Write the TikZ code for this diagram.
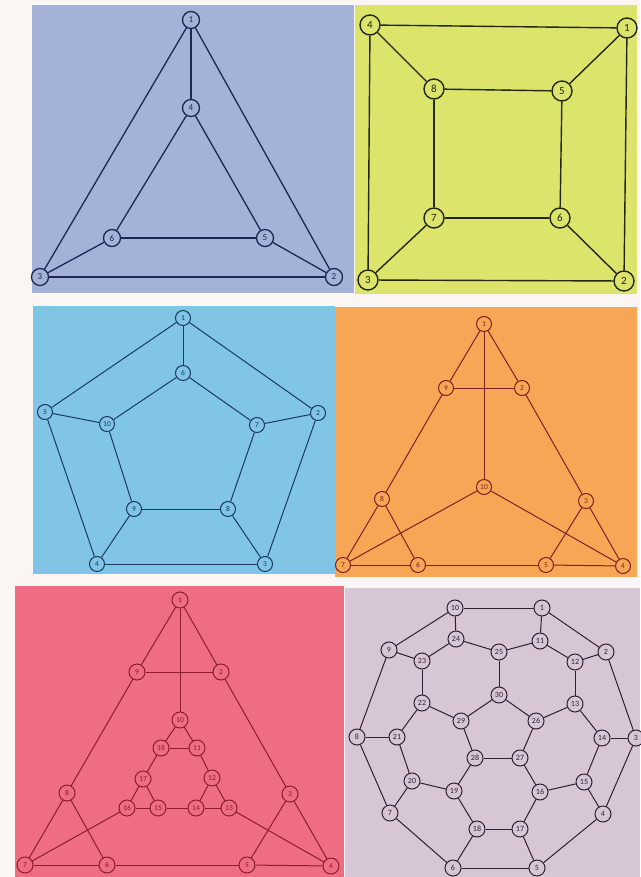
\documentclass[tikz,border=0pt]{standalone}
\usepackage{fontspec}
\setmainfont{Carlito}
\usepackage{xcolor}
\definecolor{PageWhite}{HTML}{FBF6F4}
\definecolor{PanelLilac}{HTML}{A4B2D8}
\definecolor{PanelLime}{HTML}{DDE46C}
\definecolor{PanelSky}{HTML}{80C4E6}
\definecolor{PanelOrange}{HTML}{F7A656}
\definecolor{PanelPink}{HTML}{EE6D85}
\definecolor{PanelMauve}{HTML}{D7C6D6}
\definecolor{InkNavy}{HTML}{1D2752}
\definecolor{InkBlack}{HTML}{22260F}
\definecolor{InkBlue}{HTML}{1B3A5C}
\definecolor{InkBrown}{HTML}{7A2220}
\definecolor{InkRed}{HTML}{8B1B2E}
\definecolor{InkPlum}{HTML}{2B2235}

\begin{document}
\begin{tikzpicture}[
  x=1pt, y=-1pt,
  vertex/.style={circle, draw, inner sep=0pt},
  panel/.style={line width=1pt}
]
\useasboundingbox[fill=PageWhite] (0,0) rectangle (640,877);

% Panel backgrounds
\fill[PanelLilac]  (32,5)    rectangle (354,293);
\fill[PanelLime]   (355,5)   rectangle (637,294);
\fill[PanelSky]    (33,306)  rectangle (335,574);
\fill[PanelOrange] (335,307) rectangle (637,577);
\fill[PanelPink]   (15,586)  rectangle (344,877);
\fill[PanelMauve]  (345,588) rectangle (640,877);

% Panel A: triangle in triangle
\begin{scope}[panel, draw=InkNavy, text=InkNavy, line width=1.3pt,
  vertex/.append style={fill=PanelLilac, minimum size=17pt, font=\fontsize{9}{9}\selectfont}]
\node[vertex] (a1) at (191,20)  {1};
\node[vertex] (a4) at (191,108) {4};
\node[vertex] (a6) at (112,238) {6};
\node[vertex] (a5) at (265,238) {5};
\node[vertex] (a3) at (40,277)  {3};
\node[vertex] (a2) at (334,277) {2};
\draw (a1) -- (a4); \draw (a1) -- (a3); \draw (a1) -- (a2);
\draw (a4) -- (a6); \draw (a4) -- (a5); \draw (a6) -- (a5);
\draw (a6) -- (a3); \draw (a5) -- (a2); \draw (a3) -- (a2);
\end{scope}

% Panel B: cube
\begin{scope}[panel, draw=InkBlack, text=InkBlack, line width=1.4pt,
  vertex/.append style={fill=PanelLime, minimum size=20pt, font=\fontsize{11}{11}\selectfont}]
\node[vertex] (b4) at (370,25)  {4};
\node[vertex] (b1) at (627,28)  {1};
\node[vertex] (b8) at (434,89)  {8};
\node[vertex] (b5) at (562,91)  {5};
\node[vertex] (b7) at (434,218) {7};
\node[vertex] (b6) at (560,218) {6};
\node[vertex] (b3) at (368,280) {3};
\node[vertex] (b2) at (624,281) {2};
\draw (b4) -- (b1); \draw (b4) -- (b3); \draw (b4) -- (b8);
\draw (b1) -- (b5); \draw (b1) -- (b2); \draw (b8) -- (b5);
\draw (b8) -- (b7); \draw (b5) -- (b6); \draw (b7) -- (b6);
\draw (b7) -- (b3); \draw (b6) -- (b2); \draw (b3) -- (b2);
\end{scope}

% Panel C: pentagonal prism
\begin{scope}[panel, draw=InkBlue, text=InkBlue,
  vertex/.append style={fill=PanelSky, minimum size=15pt, font=\fontsize{7.5}{7.5}\selectfont}]
\node[vertex] (c1)  at (183,318) {1};
\node[vertex] (c6)  at (183,373) {6};
\node[vertex] (c5)  at (45,412)  {5};
\node[vertex] (c2)  at (318,413) {2};
\node[vertex] (c10) at (107,424) {10};
\node[vertex] (c7)  at (257,425) {7};
\node[vertex] (c9)  at (134,509) {9};
\node[vertex] (c8)  at (228,509) {8};
\node[vertex] (c4)  at (97,564)  {4};
\node[vertex] (c3)  at (265,564) {3};
\draw (c1) -- (c5); \draw (c1) -- (c6); \draw (c1) -- (c2);
\draw (c6) -- (c10); \draw (c6) -- (c7); \draw (c5) -- (c10);
\draw (c5) -- (c4); \draw (c2) -- (c7); \draw (c2) -- (c3);
\draw (c10) -- (c9); \draw (c7) -- (c8); \draw (c9) -- (c8);
\draw (c9) -- (c4); \draw (c8) -- (c3); \draw (c4) -- (c3);
\end{scope}

% Panel D: truncated corners
\begin{scope}[panel, draw=InkBrown, text=InkBrown,
  vertex/.append style={fill=PanelOrange, minimum size=15pt, font=\fontsize{7.5}{7.5}\selectfont}]
\node[vertex] (d1)  at (484,324) {1};
\node[vertex] (d9)  at (446,388) {9};
\node[vertex] (d2)  at (522,388) {2};
\node[vertex] (d10) at (484,487) {10};
\node[vertex] (d8)  at (382,499) {8};
\node[vertex] (d3)  at (586,501) {3};
\node[vertex] (d7)  at (343,565) {7};
\node[vertex] (d6)  at (418,565) {6};
\node[vertex] (d5)  at (546,565) {5};
\node[vertex] (d4)  at (623,566) {4};
\draw (d1) -- (d9); \draw (d1) -- (d2); \draw (d1) -- (d10);
\draw (d9) -- (d2); \draw (d9) -- (d8); \draw (d2) -- (d3);
\draw (d10) -- (d7); \draw (d10) -- (d4); \draw (d8) -- (d7);
\draw (d8) -- (d6); \draw (d3) -- (d5); \draw (d3) -- (d4);
\draw (d7) -- (d6); \draw (d6) -- (d5); \draw (d5) -- (d4);
\end{scope}

% Panel E: nested truncated triangle
\begin{scope}[panel, draw=InkRed, text=InkRed,
  vertex/.append style={fill=PanelPink, minimum size=16pt, font=\fontsize{7.5}{7.5}\selectfont}]
\node[vertex] (e1)  at (180,600) {1};
\node[vertex] (e9)  at (137,672) {9};
\node[vertex] (e2)  at (221,672) {2};
\node[vertex] (e10) at (180,720) {10};
\node[vertex] (e18) at (161,748) {18};
\node[vertex] (e11) at (197,748) {11};
\node[vertex] (e17) at (143,779) {17};
\node[vertex] (e12) at (212,778) {12};
\node[vertex] (e16) at (127,808) {16};
\node[vertex] (e15) at (158,808) {15};
\node[vertex] (e14) at (196,808) {14};
\node[vertex] (e13) at (229,808) {13};
\node[vertex] (e8)  at (67,793)  {8};
\node[vertex] (e3)  at (290,794) {3};
\node[vertex] (e7)  at (25,865)  {7};
\node[vertex] (e6)  at (107,865) {6};
\node[vertex] (e5)  at (247,865) {5};
\node[vertex] (e4)  at (331,866) {4};
\draw (e1) -- (e9); \draw (e1) -- (e2); \draw (e1) -- (e10);
\draw (e9) -- (e2); \draw (e9) -- (e8); \draw (e2) -- (e3);
\draw (e10) -- (e18); \draw (e10) -- (e11); \draw (e18) -- (e11);
\draw (e18) -- (e17); \draw (e11) -- (e12); \draw (e17) -- (e16);
\draw (e17) -- (e15); \draw (e16) -- (e15); \draw (e15) -- (e14);
\draw (e14) -- (e12); \draw (e12) -- (e13); \draw (e14) -- (e13);
\draw (e16) -- (e7); \draw (e13) -- (e4); \draw (e8) -- (e7);
\draw (e8) -- (e6); \draw (e7) -- (e6); \draw (e6) -- (e5);
\draw (e3) -- (e5); \draw (e3) -- (e4); \draw (e5) -- (e4);
\end{scope}

% Panel F: dodecahedron
\begin{scope}[panel, draw=InkPlum, text=InkPlum,
  vertex/.append style={fill=PanelMauve, minimum size=16pt, font=\fontsize{8}{8}\selectfont}]
\node[vertex] (f10) at (455,608) {10};
\node[vertex] (f1)  at (542,608) {1};
\node[vertex] (f24) at (456,639) {24};
\node[vertex] (f11) at (540,641) {11};
\node[vertex] (f9)  at (389,650) {9};
\node[vertex] (f25) at (499,652) {25};
\node[vertex] (f2)  at (606,652) {2};
\node[vertex] (f23) at (422,661) {23};
\node[vertex] (f12) at (575,662) {12};
\node[vertex] (f30) at (499,695) {30};
\node[vertex] (f22) at (422,703) {22};
\node[vertex] (f13) at (575,704) {13};
\node[vertex] (f29) at (461,721) {29};
\node[vertex] (f26) at (536,721) {26};
\node[vertex] (f8)  at (357,737) {8};
\node[vertex] (f21) at (397,737) {21};
\node[vertex] (f14) at (602,738) {14};
\node[vertex] (f3)  at (636,738) {3};
\node[vertex] (f28) at (475,758) {28};
\node[vertex] (f27) at (520,758) {27};
\node[vertex] (f20) at (412,781) {20};
\node[vertex] (f15) at (584,782) {15};
\node[vertex] (f19) at (454,791) {19};
\node[vertex] (f16) at (540,792) {16};
\node[vertex] (f7)  at (390,813) {7};
\node[vertex] (f4)  at (603,814) {4};
\node[vertex] (f18) at (477,829) {18};
\node[vertex] (f17) at (520,829) {17};
\node[vertex] (f6)  at (453,868) {6};
\node[vertex] (f5)  at (537,868) {5};
% outer ring
\draw (f10) -- (f1); \draw (f1) -- (f2); \draw (f2) -- (f3);
\draw (f3) -- (f4); \draw (f4) -- (f5); \draw (f5) -- (f6);
\draw (f6) -- (f7); \draw (f7) -- (f8); \draw (f8) -- (f9);
\draw (f9) -- (f10);
% spokes
\draw (f10) -- (f24); \draw (f1) -- (f11); \draw (f2) -- (f12);
\draw (f3) -- (f14); \draw (f4) -- (f15); \draw (f5) -- (f17);
\draw (f6) -- (f18); \draw (f7) -- (f20); \draw (f8) -- (f21);
\draw (f9) -- (f23);
% middle ring
\draw (f24) -- (f23); \draw (f24) -- (f25); \draw (f11) -- (f25);
\draw (f11) -- (f12); \draw (f12) -- (f13); \draw (f13) -- (f14);
\draw (f14) -- (f15); \draw (f15) -- (f16); \draw (f16) -- (f17);
\draw (f17) -- (f18); \draw (f18) -- (f19); \draw (f19) -- (f20);
\draw (f20) -- (f21); \draw (f21) -- (f22); \draw (f22) -- (f23);
% inner pentagon
\draw (f25) -- (f30); \draw (f13) -- (f26); \draw (f16) -- (f27);
\draw (f19) -- (f28); \draw (f22) -- (f29);
\draw (f30) -- (f29); \draw (f30) -- (f26); \draw (f26) -- (f27);
\draw (f27) -- (f28); \draw (f28) -- (f29);
\end{scope}

\end{tikzpicture}
\end{document}
